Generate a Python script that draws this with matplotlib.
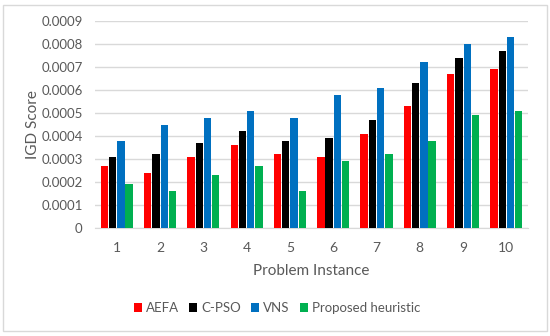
import numpy as np
import matplotlib
matplotlib.use("Agg")
import matplotlib.pyplot as plt
from matplotlib.patches import Rectangle

instances = ["1", "2", "3", "4", "5", "6", "7", "8", "9", "10"]
aefa = [0.00027, 0.00024, 0.00031, 0.00036, 0.00032, 0.00031, 0.00041, 0.00053, 0.00067, 0.00069]
cpso = [0.00031, 0.00032, 0.00037, 0.00042, 0.00038, 0.00039, 0.00047, 0.00063, 0.00074, 0.00077]
vns = [0.00038, 0.00045, 0.00048, 0.00051, 0.00048, 0.00058, 0.00061, 0.00072, 0.00080, 0.00083]
proposed = [0.00019, 0.00016, 0.00023, 0.00027, 0.00016, 0.00029, 0.00032, 0.00038, 0.00049, 0.00051]

series = [("AEFA", aefa, "#FF0000"), ("C-PSO", cpso, "#000000"),
          ("VNS", vns, "#0070C0"), ("Proposed heuristic", proposed, "#00B050")]

plt.rcParams['font.family'] = ['Lato', 'DejaVu Sans']
grey = "#595959"

fig = plt.figure(figsize=(5.5, 3.36), dpi=100)
ax = fig.add_axes([0.173, 0.3214, 0.787, 0.6161])

x = np.arange(len(instances))
w = 0.17
step = 0.19
for i, (name, vals, col) in enumerate(series):
    ax.bar(x + (i - 1.5) * step, vals, width=w, color=col, label=name, zorder=3)

ax.set_ylim(0, 0.0009)
ax.set_xlim(-0.5, len(instances) - 0.5)
ax.set_yticks(np.arange(0, 0.00091, 0.0001))
ax.set_yticklabels(["0"] + ["{:.4f}".format(v) for v in np.arange(0.0001, 0.00091, 0.0001)])
ax.set_xticks(x)
ax.set_xticklabels(instances)
ax.yaxis.grid(True, color="#D9D9D9", linewidth=1, zorder=0)
for s in ["top", "right", "left"]:
    ax.spines[s].set_visible(False)
ax.spines["bottom"].set_color("#D9D9D9")
ax.tick_params(axis="both", length=0, colors=grey, labelsize=10)
ax.tick_params(axis="y", labelsize=9.5, pad=9)
ax.tick_params(axis="x", pad=10)
ax.set_xlabel("Problem Instance", color=grey, fontsize=11, labelpad=7)
ax.set_ylabel("IGD Score", color=grey, fontsize=11, labelpad=1)

ax.legend(loc="center", bbox_to_anchor=(0.504, 1 - 308 / 336),
          bbox_transform=fig.transFigure, ncol=4, frameon=False, fontsize=9.5,
          handlelength=0.6, handleheight=0.6, handletextpad=0.3, columnspacing=0.8,
          labelcolor=grey)

fig.patches.append(Rectangle((0.006, 0.015), 0.988, 0.97, transform=fig.transFigure,
                             fill=False, edgecolor="#D9D9D9", linewidth=1))

fig.savefig("out.png", dpi=100)
